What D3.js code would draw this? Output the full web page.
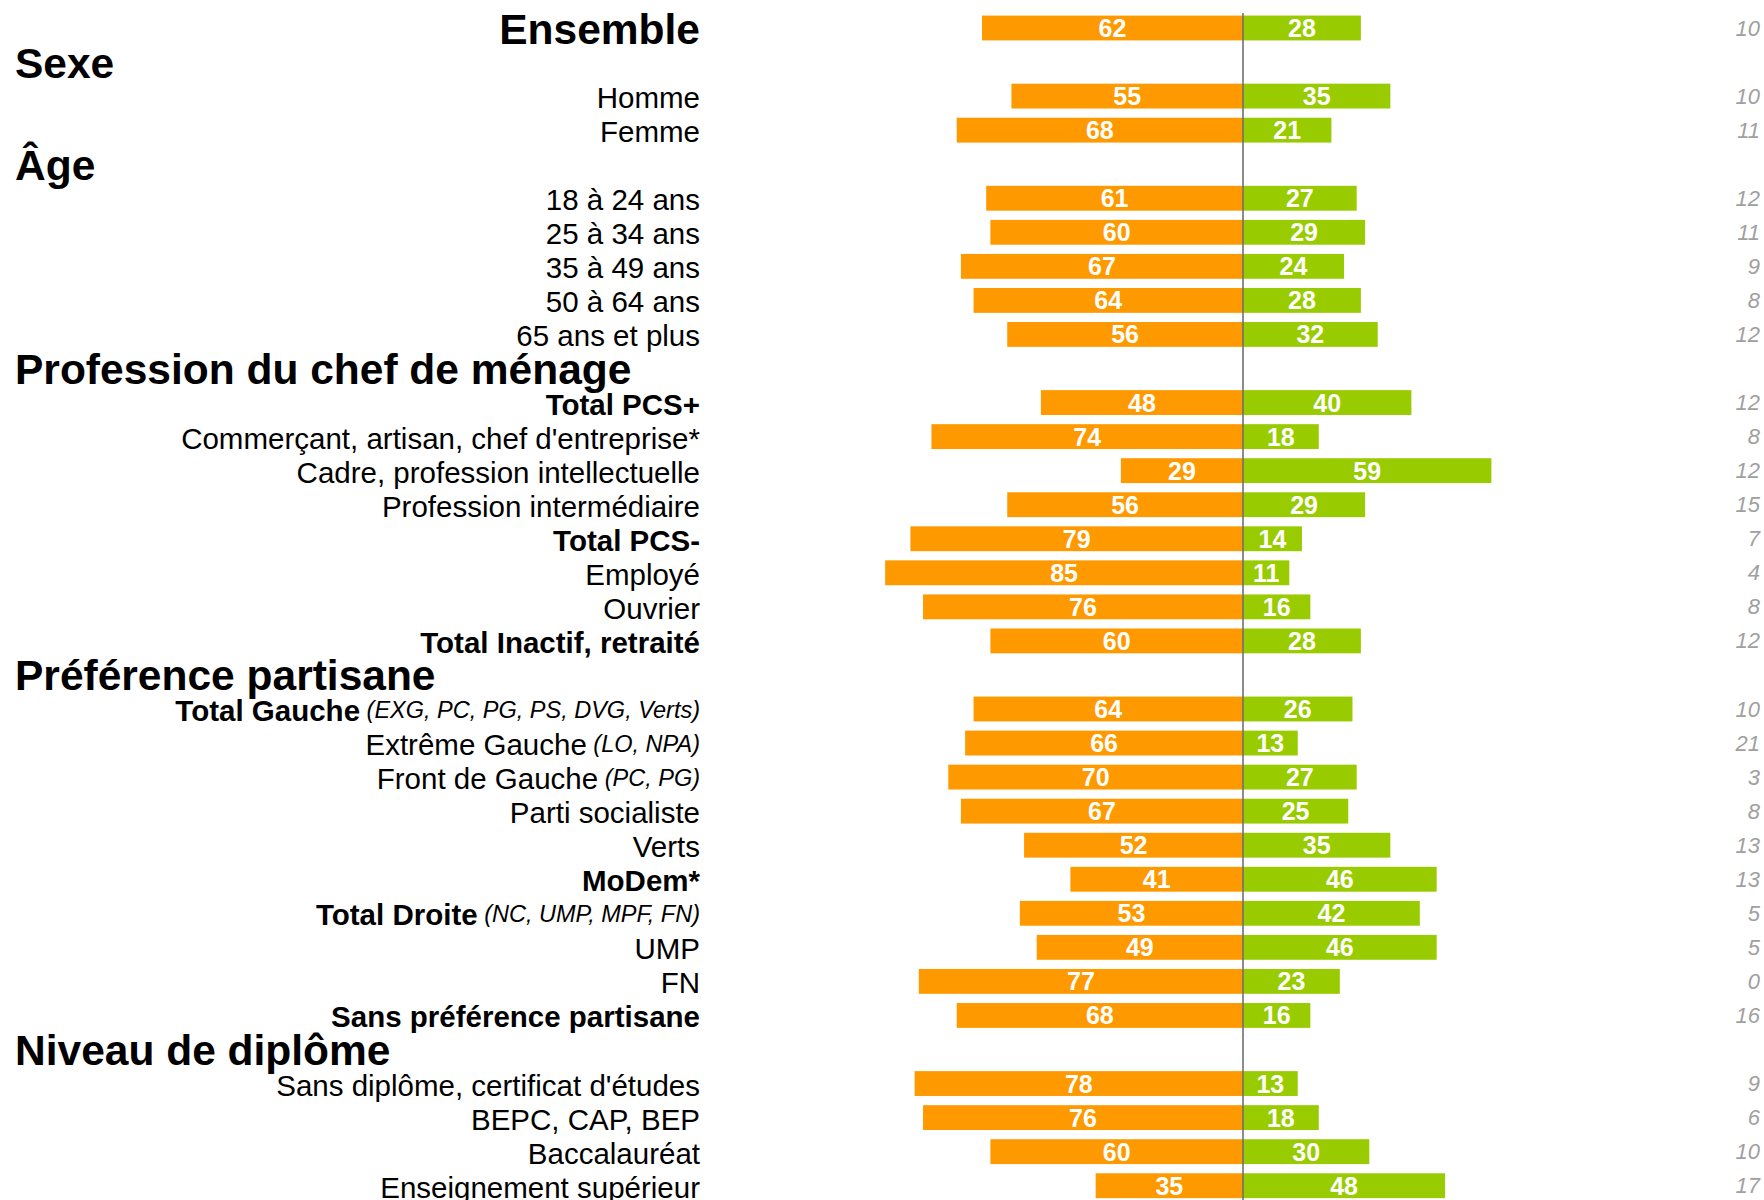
<!DOCTYPE html>
<html><head><meta charset="utf-8">
<script src="https://cdn.jsdelivr.net/npm/d3@7"></script>
<style>
html,body{margin:0;padding:0;background:#fff;}
svg{display:block;font-family:"Liberation Sans",Arial,sans-serif;}
</style></head>
<body>
<svg id="chart" width="1764" height="1200"></svg>
<script>
// ---- data ----
const categories = ["Ensemble","Homme","Femme","18 à 24 ans","25 à 34 ans","35 à 49 ans","50 à 64 ans","65 ans et plus",
  "Total PCS+","Commerçant, artisan, chef d'entreprise*","Cadre, profession intellectuelle","Profession intermédiaire",
  "Total PCS-","Employé","Ouvrier","Total Inactif, retraité",
  "Total Gauche","Extrême Gauche","Front de Gauche","Parti socialiste","Verts","MoDem*","Total Droite","UMP","FN","Sans préférence partisane",
  "Sans diplôme, certificat d'études","BEPC, CAP, BEP","Baccalauréat","Enseignement supérieur"];
const categoryNotes = ["","","","","","","","","","","","","","","","",
  "(EXG, PC, PG, PS, DVG, Verts)","(LO, NPA)","(PC, PG)","","","","(NC, UMP, MPF, FN)","","","",
  "","","",""];
const categoryStyle = ["title","normal","normal","normal","normal","normal","normal","normal",
  "bold","normal","normal","normal","bold","normal","normal","bold",
  "bold","normal","normal","normal","normal","bold","bold","normal","normal","bold",
  "normal","normal","normal","normal"];
const orangeValues = [62,55,68,61,60,67,64,56,48,74,29,56,79,85,76,60,64,66,70,67,52,41,53,49,77,68,78,76,60,35];
const greenValues  = [28,35,21,27,29,24,28,32,40,18,59,29,14,11,16,28,26,13,27,25,35,46,42,46,23,16,13,18,30,48];
const otherValues  = [10,10,11,12,11,9,8,12,12,8,12,15,7,4,8,12,10,21,3,8,13,13,5,5,0,16,9,6,10,17];
const groupTitles = ["Sexe","Âge","Profession du chef de ménage","Préférence partisane","Niveau de diplôme"];
const groupFirstCategory = [1,3,8,16,26];

// ---- build slot list ----
const slots = [];
categories.forEach((c,i)=>{
  const g = groupFirstCategory.indexOf(i);
  if(g>=0) slots.push({type:"group", label:groupTitles[g]});
  slots.push({type:"row", i, label:c, note:categoryNotes[i], style:categoryStyle[i],
    o:orangeValues[i], g:greenValues[i], n:otherValues[i]});
});
slots.forEach((s,k)=>s.k=k);

const svg = d3.select("#chart");
const pitch = 34.05;
const y = d3.scaleBand().domain(slots.map(s=>s.k))
  .range([28 - pitch/2, 28 - pitch/2 + pitch*slots.length]).paddingInner(0.27).paddingOuter(0.135);
const x = d3.scaleLinear().domain([-100,100]).range([1243-421,1243+421]);
const ORANGE = "#FF9900", GREEN = "#99CC00";
const rows = slots.filter(s=>s.type==="row");
const cy = k => y(k) + y.bandwidth()/2;

// bars
svg.append("g").selectAll("rect").data(rows).join("rect")
  .attr("x", d=>x(-d.o)).attr("width", d=>x(0)-x(-d.o))
  .attr("y", d=>y(d.k)).attr("height", y.bandwidth()).attr("fill", ORANGE);
svg.append("g").selectAll("rect").data(rows).join("rect")
  .attr("x", x(0)).attr("width", d=>x(d.g)-x(0))
  .attr("y", d=>y(d.k)).attr("height", y.bandwidth()).attr("fill", GREEN);

// center line
svg.append("line").attr("x1", x(0)).attr("x2", x(0)).attr("y1", 13).attr("y2", 1200)
  .attr("stroke", "#707070").attr("stroke-width", 1.6);

// value labels
const vl = svg.append("g").attr("fill","#fff").attr("font-weight","bold").attr("font-size",25)
  .attr("text-anchor","middle").attr("dominant-baseline","central");
vl.selectAll("text.o").data(rows).join("text").attr("class","o")
  .attr("x", d=>(x(-d.o)+x(0))/2).attr("y", d=>cy(d.k)).text(d=>d.o);
vl.selectAll("text.g").data(rows).join("text").attr("class","g")
  .attr("x", d=>(x(d.g)+x(0))/2).attr("y", d=>cy(d.k)).text(d=>d.g);

// other column
svg.append("g").attr("fill","#a0a0a0").attr("font-style","italic").attr("font-size",22)
  .attr("text-anchor","end").attr("dominant-baseline","central")
  .selectAll("text").data(rows).join("text")
  .attr("x", 1760).attr("y", d=>cy(d.k)).text(d=>d.n);

// category labels
const lab = svg.append("g").attr("fill","#000").attr("text-anchor","end").attr("dominant-baseline","central");
rows.forEach(d=>{
  const t = lab.append("text").attr("x", 700).attr("y", cy(d.k)+1);
  if(d.style==="title"){
    t.attr("font-size",42.5).attr("font-weight","bold").text(d.label);
  } else {
    t.attr("font-size",29.5);
    t.append("tspan").attr("font-weight", d.style==="bold"?"bold":"normal").text(d.label);
    if(d.note){
      t.append("tspan").attr("font-style","italic").attr("font-size",23.5).text(" "+d.note);
    }
  }
});

// group headers
svg.append("g").attr("font-weight","bold").attr("font-size",42.5).attr("dominant-baseline","central")
  .selectAll("text").data(slots.filter(s=>s.type==="group")).join("text")
  .attr("x", 15).attr("y", d=>cy(d.k)+1).text(d=>d.label);
</script>
</body></html>
